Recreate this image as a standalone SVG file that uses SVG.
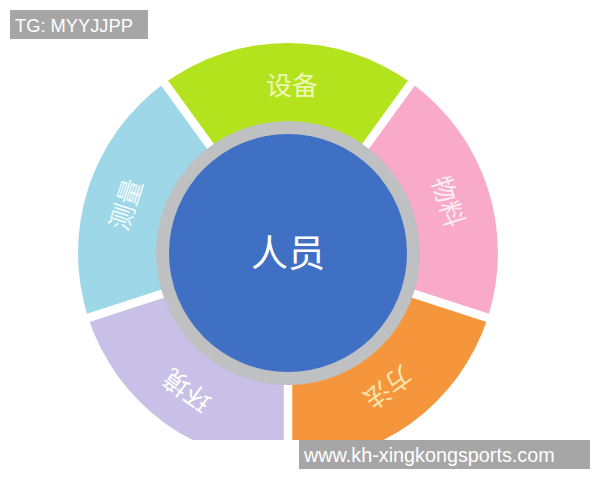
<svg xmlns="http://www.w3.org/2000/svg" width="600" height="480" viewBox="0 0 600 480">
<style>
.lbl{font-family:"Noto Sans CJK SC","Noto Sans",sans-serif;font-size:26px;text-anchor:middle;dominant-baseline:central}
.wm{font-family:"Liberation Sans","DejaVu Sans",sans-serif;fill:#ffffff}
.gap{stroke:#ffffff;stroke-width:8.5}
</style>
<rect width="600" height="480" fill="#ffffff"/>
<g id="seg-shebei">
<path d="M164.6,83.1 A210,210 0 0 1 411.4,83.1 L361.5,151.9 A125,125 0 0 0 214.5,151.9 Z" fill="#b3e31d"/>
<text class="lbl" x="292" y="83" fill="#eef8b8">设备</text>
</g>
<g id="seg-wuliao">
<path d="M411.4,83.1 A210,210 0 0 1 487.7,317.9 L406.9,291.6 A125,125 0 0 0 361.5,151.9 Z" fill="#f8aac8"/>
<text class="lbl" x="450" y="201" fill="#fbeef3" transform="rotate(72 450 201)">物料</text>
</g>
<g id="seg-fangfa">
<path d="M487.7,317.9 A210,210 0 0 1 288,463 L288,378 A125,125 0 0 0 406.9,291.6 Z" fill="#f5963c"/>
<text class="lbl" x="389" y="389" fill="#fbe6b0" transform="rotate(144 389 389)">方法</text>
</g>
<g id="seg-huanjing">
<path d="M288,463 A210,210 0 0 1 88.3,317.9 L169.1,291.6 A125,125 0 0 0 288,378 Z" fill="#c8c0e6"/>
<text class="lbl" x="186" y="392" fill="#ffffff" transform="rotate(216 186 392)">环境</text>
</g>
<g id="seg-celiang">
<path d="M88.3,317.9 A210,210 0 0 1 164.6,83.1 L214.5,151.9 A125,125 0 0 0 169.1,291.6 Z" fill="#9dd7e8"/>
<text class="lbl" x="124" y="204" fill="#f4fbfd" transform="rotate(288 124 204)">测量</text>
</g>
<g id="connectors">
<line class="gap" x1="288" y1="253" x2="161.6" y2="79"/>
<line class="gap" x1="288" y1="253" x2="414.4" y2="79"/>
<line class="gap" x1="288" y1="253" x2="492.5" y2="319.4"/>
<line class="gap" x1="288" y1="253" x2="288" y2="468"/>
<line class="gap" x1="288" y1="253" x2="83.5" y2="319.4"/>
</g>
<g id="node-renyuan">
<circle cx="288" cy="253" r="132" fill="#bfc0c2"/>
<circle cx="288" cy="253" r="119" fill="#4070c4"/>
<text x="288" y="251" font-family="'Noto Sans CJK SC','Noto Sans',sans-serif" font-size="37" fill="#ffffff" text-anchor="middle" dominant-baseline="central">人员</text>
</g>
<rect x="0" y="440" width="600" height="40" fill="#ffffff"/>
<g id="wm-tg">
<rect x="10" y="10" width="138" height="29" fill="#a6a6a6"/>
<text class="wm" x="15" y="32" font-size="18.3">TG: MYYJJPP</text>
</g>
<g id="wm-url">
<rect x="299" y="440" width="291" height="29" fill="#a6a6a6"/>
<text class="wm" x="304" y="461.5" font-size="19.8">www.kh-xingkongsports.com</text>
</g>
</svg>
